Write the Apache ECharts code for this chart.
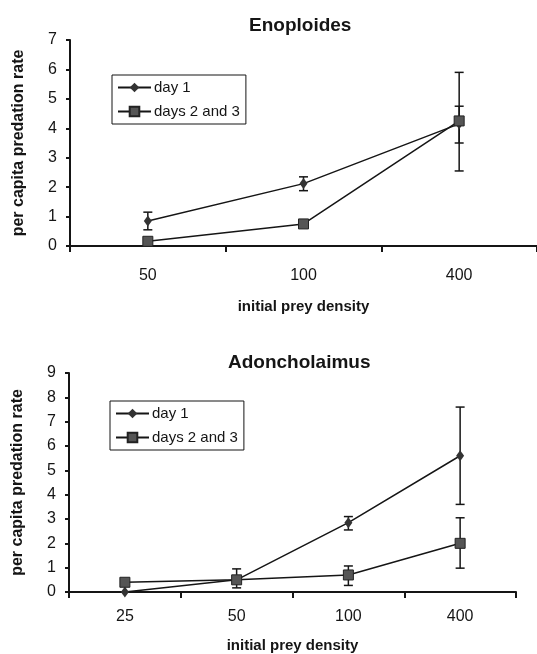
<!DOCTYPE html>
<html>
<head>
<meta charset="utf-8">
<script src="https://cdn.jsdelivr.net/npm/echarts@6/dist/echarts.min.js"></script>
<style>
  html, body { margin: 0; padding: 0; background: #fff; }
  #chart { width: 537px; height: 654px; }
</style>
</head>
<body>
<div id="chart"></div>
<script>
  // Enoploides (top panel)
  const topCats = ['50', '100', '400'];
  const topDay1 = [0.85, 2.12, 4.15];
  const topDay1Err = [[0.55, 1.15], [1.88, 2.35], [3.5, 4.75]];
  const topDays23 = [0.16, 0.75, 4.25];
  const topDays23Err = [null, null, [2.55, 5.9]];

  // Adoncholaimus (bottom panel)
  const botCats = ['25', '50', '100', '400'];
  const botDay1 = [0, 0.5, 2.85, 5.6];
  const botDay1Err = [null, null, [2.55, 3.1], [3.6, 7.6]];
  const botDays23 = [0.4, 0.5, 0.7, 2.0];
  const botDays23Err = [null, [0.17, 0.95], [0.27, 1.07], [0.98, 3.05]];

  const font = 'Liberation Sans, Arial, sans-serif';
  const ink = '#151515';

  function errData(errs) {
    const out = [];
    errs.forEach(function (e, i) {
      if (e) out.push([i, e[0], e[1]]);
    });
    return out;
  }

  function renderErr(params, api) {
    const lo = api.coord([api.value(0), api.value(1)]);
    const hi = api.coord([api.value(0), api.value(2)]);
    const w = 4.5;
    const style = { stroke: ink, lineWidth: 1.5 };
    return {
      type: 'group',
      children: [
        { type: 'line', shape: { x1: lo[0], y1: lo[1], x2: hi[0], y2: hi[1] }, style: style },
        { type: 'line', shape: { x1: lo[0] - w, y1: lo[1], x2: lo[0] + w, y2: lo[1] }, style: style },
        { type: 'line', shape: { x1: hi[0] - w, y1: hi[1], x2: hi[0] + w, y2: hi[1] }, style: style }
      ]
    };
  }

  function xAxis(cats, idx, gap, margin) {
    return {
      type: 'category',
      gridIndex: idx,
      data: cats,
      boundaryGap: true,
      name: 'initial prey density',
      nameLocation: 'middle',
      nameGap: gap,
      nameTextStyle: { fontFamily: font, fontWeight: 'bold', fontSize: 15, color: ink },
      axisLine: { lineStyle: { color: ink, width: 2 } },
      axisTick: { show: true, alignWithLabel: false, interval: 0, length: 6, lineStyle: { color: ink, width: 2 } },
      axisLabel: { fontFamily: font, fontSize: 16, color: ink, margin: margin }
    };
  }

  function yAxis(max, idx) {
    return {
      type: 'value',
      gridIndex: idx,
      min: 0,
      max: max,
      interval: 1,
      name: 'per capita predation rate',
      nameLocation: 'middle',
      nameGap: 43,
      nameTextStyle: { fontFamily: font, fontWeight: 'bold', fontSize: 16, color: ink },
      splitLine: { show: false },
      axisLine: { show: true, lineStyle: { color: ink, width: 2 } },
      axisTick: { show: true, length: 4, lineStyle: { color: ink, width: 2 } },
      axisLabel: { fontFamily: font, fontSize: 16, color: ink, margin: 13 }
    };
  }

  function lineSeries(name, data, idx, isSquare) {
    return {
      name: name,
      type: 'line',
      xAxisIndex: idx,
      yAxisIndex: idx,
      data: data,
      symbol: isSquare ? 'rect' : 'diamond',
      symbolSize: isSquare ? 10 : [8, 11],
      itemStyle: isSquare ? { color: '#555', borderColor: '#222', borderWidth: 1 } : { color: '#333' },
      lineStyle: { color: ink, width: 1.5 },
      z: isSquare ? 4 : 3
    };
  }

  function errSeries(errs, idx) {
    return {
      type: 'custom',
      xAxisIndex: idx,
      yAxisIndex: idx,
      data: errData(errs),
      renderItem: renderErr,
      z: 2,
      silent: true
    };
  }

  function legend(left, top) {
    return {
      left: left,
      top: top,
      orient: 'vertical',
      data: ['day 1', 'days 2 and 3'],
      borderColor: ink,
      borderWidth: 1,
      padding: [5, 6, 5, 5],
      itemWidth: 33,
      itemHeight: 12,
      itemGap: 9,
      textStyle: { fontFamily: font, fontSize: 15, color: ink, padding: [0, 0, 0, -2] }
    };
  }

  const chart = echarts.init(document.getElementById('chart'));
  chart.setOption({
    backgroundColor: '#fff',
    animation: false,
    title: [
      { text: 'Enoploides', left: 244, top: 11,
        textStyle: { fontFamily: font, fontWeight: 'bold', fontSize: 19, color: ink } },
      { text: 'Adoncholaimus', left: 223, top: 348,
        textStyle: { fontFamily: font, fontWeight: 'bold', fontSize: 19, color: ink } }
    ],
    legend: [legend(112, 75), legend(110, 401)],
    grid: [
      { left: 70, top: 40, right: 0, height: 206 },
      { left: 69, top: 373, right: 21, height: 229 }
    ],
    xAxis: [xAxis(topCats, 0, 53, 22), xAxis(botCats, 1, 46, 17)],
    yAxis: [yAxis(7, 0), yAxis(9, 1)],
    series: [
      lineSeries('day 1', topDay1, 0, false),
      lineSeries('days 2 and 3', topDays23, 0, true),
      errSeries(topDay1Err, 0),
      errSeries(topDays23Err, 0),
      lineSeries('day 1', botDay1, 1, false),
      lineSeries('days 2 and 3', botDays23, 1, true),
      errSeries(botDay1Err, 1),
      errSeries(botDays23Err, 1)
    ]
  });
</script>
</body>
</html>
